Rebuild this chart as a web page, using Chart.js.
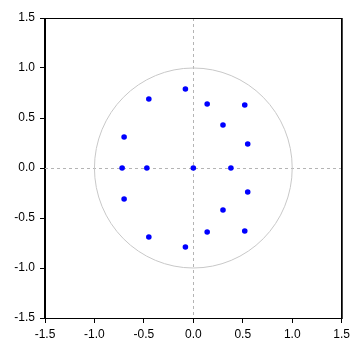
<!DOCTYPE html>
<html>
<head>
<meta charset="utf-8">
<script src="https://cdn.jsdelivr.net/npm/chart.js@4/dist/chart.umd.min.js"></script>
<style>
html,body{margin:0;padding:0;background:#fff;}
#c{display:block;}
</style>
</head>
<body>
<canvas id="c" width="354" height="340"></canvas>
<script>
const realParts = [-0.08, 0.14, 0.52, 0.30, 0.55, 0.00, 0.38, 0.55, 0.30, 0.14, 0.52, -0.08, -0.45, -0.70, -0.72, -0.47, -0.70, -0.45];
const imagParts = [0.79, 0.64, 0.63, 0.43, 0.24, 0.00, 0.00, -0.24, -0.42, -0.64, -0.63, -0.79, 0.69, 0.31, 0.00, 0.00, -0.31, -0.69];
const tickValues = [-1.5, -1.0, -0.5, 0.0, 0.5, 1.0, 1.5];
const tickLabels = ["-1.5", "-1.0", "-0.5", "0.0", "0.5", "1.0", "1.5"];
const unitRadius = 1;

const points = realParts.map((x, i) => ({x: x, y: imagParts[i]}));

const decor = {
  id: 'decor',
  beforeDatasetsDraw(chart) {
    const {ctx, chartArea: a, scales: {x, y}} = chart;
    ctx.save();
    // zero reference lines
    ctx.strokeStyle = '#b4b4b4';
    ctx.lineWidth = 1;
    ctx.setLineDash([3, 3]);
    const x0 = Math.round(x.getPixelForValue(0)) + 0.5;
    const y0 = Math.round(y.getPixelForValue(0)) + 0.5;
    ctx.beginPath();
    ctx.moveTo(x0, a.top); ctx.lineTo(x0, a.bottom);
    ctx.moveTo(a.left, y0); ctx.lineTo(a.right, y0);
    ctx.stroke();
    ctx.setLineDash([]);
    // unit circle
    const cx = x.getPixelForValue(0), cy = y.getPixelForValue(0);
    const rx = x.getPixelForValue(unitRadius) - cx;
    const ry = cy - y.getPixelForValue(unitRadius);
    ctx.strokeStyle = '#c8c8c8';
    ctx.beginPath();
    ctx.ellipse(cx, cy, rx, ry, 0, 0, Math.PI * 2);
    ctx.stroke();
    ctx.restore();
  },
  afterDraw(chart) {
    const {ctx, chartArea: a} = chart;
    ctx.save();
    ctx.strokeStyle = '#000';
    ctx.lineWidth = 1;
    ctx.strokeRect(Math.round(a.left) - 0.5, Math.round(a.top) + 0.5, Math.round(a.right - a.left), Math.round(a.bottom - a.top));
    ctx.strokeStyle = '#444';
    ctx.beginPath();
    ctx.moveTo(Math.round(a.right) + 0.5, a.top);
    ctx.lineTo(Math.round(a.right) + 0.5, a.bottom + 1);
    ctx.stroke();
    ctx.restore();
  }
};

function axis(isX) {
  return {
    type: 'linear',
    min: tickValues[0],
    max: tickValues[tickValues.length - 1],
    afterBuildTicks(s) { s.ticks = tickValues.map(v => ({value: v})); },
    afterFit(s) { if (isX) s.height = 22; else s.width = 45; },
    grid: {
      display: true,
      drawOnChartArea: false,
      drawTicks: true,
      tickLength: 5,
      tickColor: '#000',
      color: '#000'
    },
    border: {display: true, color: '#000', width: 1},
    ticks: {
      color: '#000',
      padding: isX ? 4 : 5,
      autoSkip: false,
      maxRotation: 0,
      font: {family: 'Liberation Sans, Arial, sans-serif', size: 12},
      callback: (v, i) => tickLabels[i]
    }
  };
}

new Chart(document.getElementById('c'), {
  type: 'scatter',
  data: {
    datasets: [{
      data: points,
      backgroundColor: '#0000ff',
      borderColor: '#0000ff',
      pointRadius: 2.8,
      pointBorderWidth: 0
    }]
  },
  options: {
    responsive: false,
    animation: false,
    devicePixelRatio: 1,
    layout: {padding: {left: 0, right: 10, top: 18, bottom: 0}},
    plugins: {legend: {display: false}, tooltip: {enabled: false}},
    scales: {x: axis(true), y: axis(false)}
  },
  plugins: [decor]
});
</script>
</body>
</html>
